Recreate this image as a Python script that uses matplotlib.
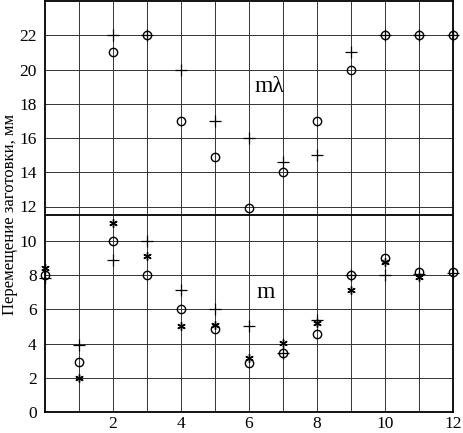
import matplotlib
matplotlib.use("Agg")
import matplotlib.pyplot as plt

# Upper group (mλ)
x_up = [2, 3, 4, 5, 6, 7, 8, 9, 10, 11, 12]
up_circle = [21, 22, 17, 14.9, 11.9, 14.0, 17.0, 20.0, 22, 22, 22]
up_plus = [22, 22, 20, 17, 16, 14.6, 15.0, 21.0, 22, 22, 22]

# Lower group (m)
x_low = [0, 1, 2, 3, 4, 5, 6, 7, 8, 9, 10, 11, 12]
low_circle = [8.0, 2.9, 10.0, 8.0, 6.0, 4.85, 2.85, 3.45, 4.55, 8.0, 9.0, 8.15, 8.15]
low_plus = [7.8, 3.9, 8.9, 10.0, 7.1, 6.0, 5.0, 3.45, 5.4, 8.0, 8.0, 8.05, 8.1]
x_low_ast = [0, 1, 2, 3, 4, 5, 6, 7, 8, 9, 10, 11]
low_ast = [8.4, 2.0, 11.05, 9.1, 5.0, 5.1, 3.15, 4.05, 5.2, 7.1, 8.75, 7.9]

xticks = [2, 4, 6, 8, 10, 12]
yticks = list(range(0, 24, 2))
ylabel = "Перемещение заготовки, мм"

plt.rcParams['font.family'] = ['Liberation Serif', 'DejaVu Serif']
fig = plt.figure(figsize=(4.64, 4.33), dpi=100)
ax = fig.add_axes([45/464, 21/433, (453-45)/464, (432-21)/433])

ax.set_xlim(0, 12)
ax.set_ylim(0, 24)

for xv in range(1, 12):
    ax.axvline(xv, color='#333333', lw=0.7, zorder=0)
for yv in range(2, 24, 2):
    ax.axhline(yv, color='#333333', lw=0.7, zorder=0)
ax.axhline(11.5, color='black', lw=1.3, zorder=1)

ms = 6
ax.plot(x_up, up_circle, 'o', mfc='none', mec='black', ms=ms, mew=1.0, clip_on=False, zorder=3)
ax.plot(x_up, up_plus, '+', color='black', ms=ms + 3, mew=0.9, clip_on=False, zorder=3)
ax.plot(x_low, low_circle, 'o', mfc='none', mec='black', ms=ms, mew=1.0, clip_on=False, zorder=3)
ax.plot(x_low, low_plus, '+', color='black', ms=ms + 3, mew=0.9, clip_on=False, zorder=3)
ax.plot(x_low_ast, low_ast, marker=(6, 2, 0), ls='none', color='black', ms=ms, mew=1.0, clip_on=False, zorder=3)

ax.text(6.6, 19.0, "mλ", fontsize=17, ha='center', va='center')
ax.text(6.5, 7.0, "m", fontsize=17, ha='center', va='center')

ax.set_xticks(xticks)
ax.set_xticklabels([str(v) for v in xticks], fontsize=12.5)
ax.set_yticks(yticks)
ax.set_yticklabels([str(v) for v in yticks], fontsize=12.5)
ax.tick_params(axis='y', length=0, pad=6)
ax.tick_params(axis='x', length=0, pad=3)
ax.set_ylabel(ylabel, fontsize=12)
ax.yaxis.set_label_coords(-0.066, 0.48)

for s in ax.spines.values():
    s.set_linewidth(1.3)

fig.savefig("out.png", dpi=100)
